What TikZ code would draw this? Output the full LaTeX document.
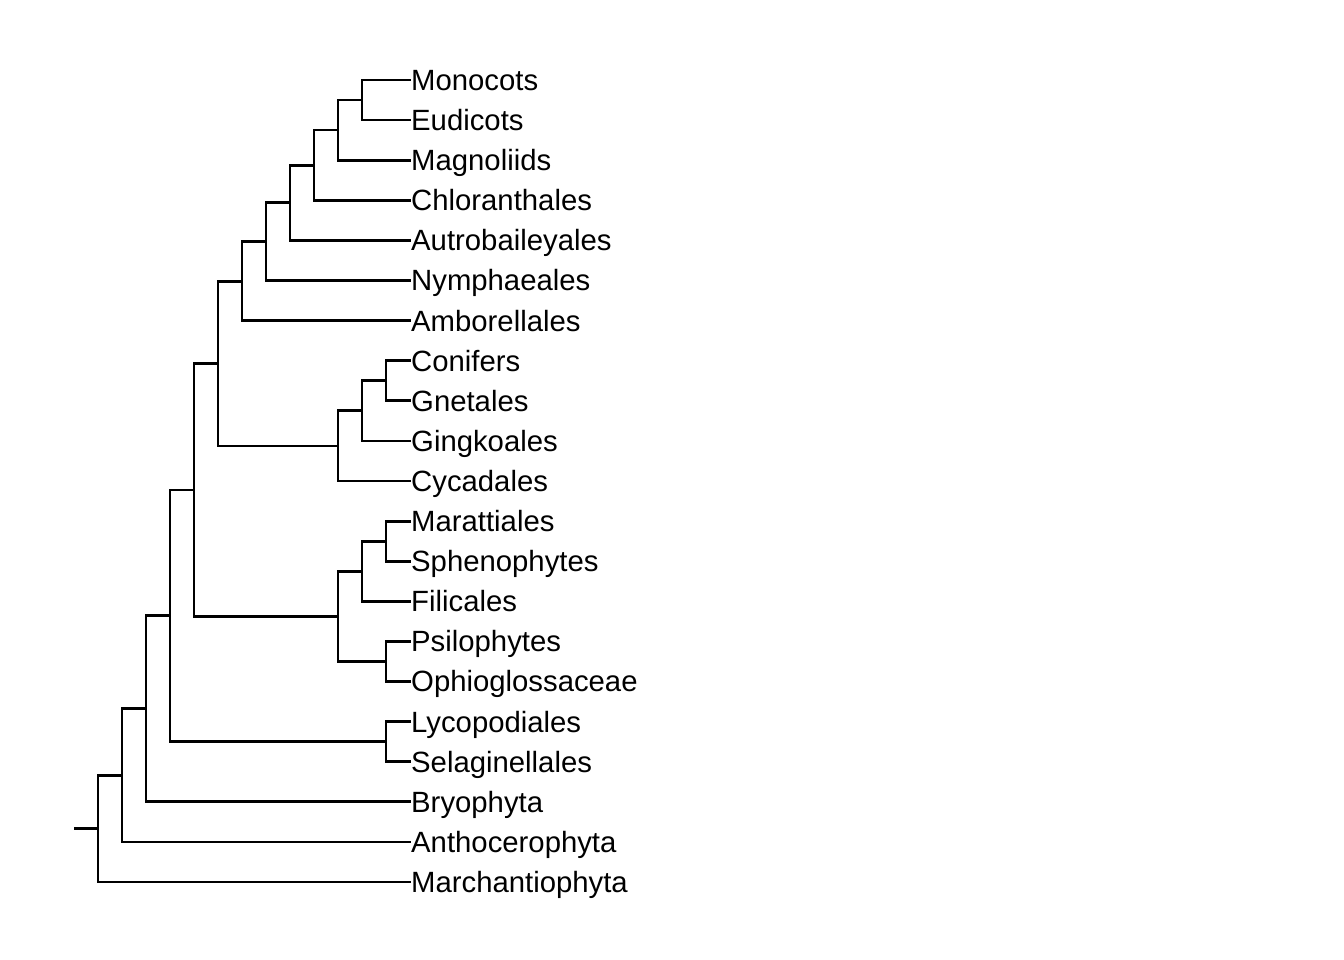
\documentclass[tikz,border=0pt]{standalone}
\usepackage{fontspec}
\setmainfont{Liberation Sans}
\begin{document}
\begin{tikzpicture}[x=1pt,y=-1pt,
  edge/.style={line width=2.8pt},
  tip/.style={anchor=west, inner sep=0pt, text height=20.8pt, text depth=0pt,
    font=\fontsize{29.3}{31}\selectfont}]
\useasboundingbox (0,0) rectangle (1344,960);
% tip labels
\node[tip] (t1) at (411,80.0) {Monocots};
\node[tip] (t2) at (411,120.1) {Eudicots};
\node[tip] (t3) at (411,160.2) {Magnoliids};
\node[tip] (t4) at (411,200.3) {Chloranthales};
\node[tip] (t5) at (411,240.4) {Autrobaileyales};
\node[tip] (t6) at (411,280.5) {Nymphaeales};
\node[tip] (t7) at (411,320.6) {Amborellales};
\node[tip] (t8) at (411,360.7) {Conifers};
\node[tip] (t9) at (411,400.8) {Gnetales};
\node[tip] (t10) at (411,440.9) {Gingkoales};
\node[tip] (t11) at (411,481.0) {Cycadales};
\node[tip] (t12) at (411,521.1) {Marattiales};
\node[tip] (t13) at (411,561.2) {Sphenophytes};
\node[tip] (t14) at (411,601.3) {Filicales};
\node[tip] (t15) at (411,641.4) {Psilophytes};
\node[tip] (t16) at (411,681.5) {Ophioglossaceae};
\node[tip] (t17) at (411,721.6) {Lycopodiales};
\node[tip] (t18) at (411,761.7) {Selaginellales};
\node[tip] (t19) at (411,801.8) {Bryophyta};
\node[tip] (t20) at (411,841.9) {Anthocerophyta};
\node[tip] (t21) at (411,882.0) {Marchantiophyta};
% internal nodes
\coordinate (stub) at (74,828.7);
\coordinate (root) at (98,828.7);
\coordinate (M) at (122,775.35);
\coordinate (L) at (146,708.8);
\coordinate (K) at (170,615.8);
\coordinate (J) at (194,489.9);
\coordinate (H) at (218,363.5);
\coordinate (F) at (242,281.1);
\coordinate (E) at (266,241.65);
\coordinate (D) at (290,202.8);
\coordinate (C) at (314,165.2);
\coordinate (B) at (338,130.1);
\coordinate (A) at (362,100.05);
\coordinate (G3) at (338,445.9);
\coordinate (G2) at (362,410.8);
\coordinate (G1) at (386,380.75);
\coordinate (I4) at (338,616.3);
\coordinate (I2) at (362,571.2);
\coordinate (I1) at (386,541.15);
\coordinate (I3) at (386,661.45);
\coordinate (K1) at (386,741.65);
% edges
\draw[edge] (stub) -- (root);
\draw[edge] (root) |- (M); \draw[edge] (root) |- (t21.west);
\draw[edge] (M) |- (L); \draw[edge] (M) |- (t20.west);
\draw[edge] (L) |- (K); \draw[edge] (L) |- (t19.west);
\draw[edge] (K) |- (J); \draw[edge] (K) |- (K1);
\draw[edge] (K1) |- (t17.west); \draw[edge] (K1) |- (t18.west);
\draw[edge] (J) |- (H); \draw[edge] (J) |- (I4);
\draw[edge] (H) |- (F); \draw[edge] (H) |- (G3);
\draw[edge] (F) |- (E); \draw[edge] (F) |- (t7.west);
\draw[edge] (E) |- (D); \draw[edge] (E) |- (t6.west);
\draw[edge] (D) |- (C); \draw[edge] (D) |- (t5.west);
\draw[edge] (C) |- (B); \draw[edge] (C) |- (t4.west);
\draw[edge] (B) |- (A); \draw[edge] (B) |- (t3.west);
\draw[edge] (A) |- (t1.west); \draw[edge] (A) |- (t2.west);
\draw[edge] (G3) |- (G2); \draw[edge] (G3) |- (t11.west);
\draw[edge] (G2) |- (G1); \draw[edge] (G2) |- (t10.west);
\draw[edge] (G1) |- (t8.west); \draw[edge] (G1) |- (t9.west);
\draw[edge] (I4) |- (I2); \draw[edge] (I4) |- (I3);
\draw[edge] (I2) |- (I1); \draw[edge] (I2) |- (t14.west);
\draw[edge] (I1) |- (t12.west); \draw[edge] (I1) |- (t13.west);
\draw[edge] (I3) |- (t15.west); \draw[edge] (I3) |- (t16.west);
\end{tikzpicture}
\end{document}
